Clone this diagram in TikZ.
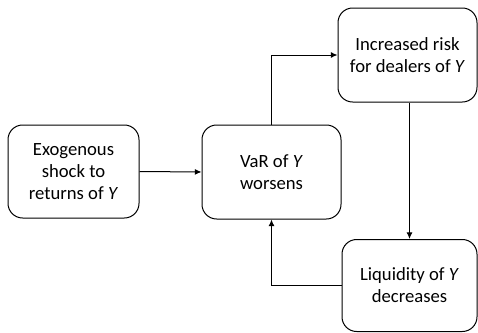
\documentclass[tikz,border=0pt]{standalone}
\usepackage{fontspec}
\setmainfont{Carlito}
\usetikzlibrary{arrows.meta}
\begin{document}
\begin{tikzpicture}[x=0.75pt,y=-0.75pt,
  boxnode/.style={draw=black, line width=0.75pt, rounded corners=11pt, align=center,
    font=\fontsize{14}{16.5}\selectfont, inner sep=0pt},
  conn/.style={line width=0.75pt, -{Latex[length=5pt,width=4.5pt]}}]
\useasboundingbox (0,0) rectangle (478,332);
\node[boxnode, minimum width=98.25pt, minimum height=69.75pt] (a) at (73.5,171.5) {Exogenous\\shock to\\returns of \textit{Y}};
\node[boxnode, minimum width=104.25pt, minimum height=70.5pt] (b) at (271.5,172) {VaR of \textit{Y}\\worsens};
\node[boxnode, minimum width=104.25pt, minimum height=70.5pt] (c) at (407.5,55) {Increased risk\\for dealers of \textit{Y}};
\node[boxnode, minimum width=101.25pt, minimum height=69pt] (d) at (409.5,285.5) {Liquidity of \textit{Y}\\decreases};
\draw[conn] (a.east) -- (b.west);
\draw[conn] (b.north) |- (c.west);
\draw[conn] (c.south -| d.north) -- (d.north);
\draw[conn] (d.west) -| (b.south);
\end{tikzpicture}
\end{document}
